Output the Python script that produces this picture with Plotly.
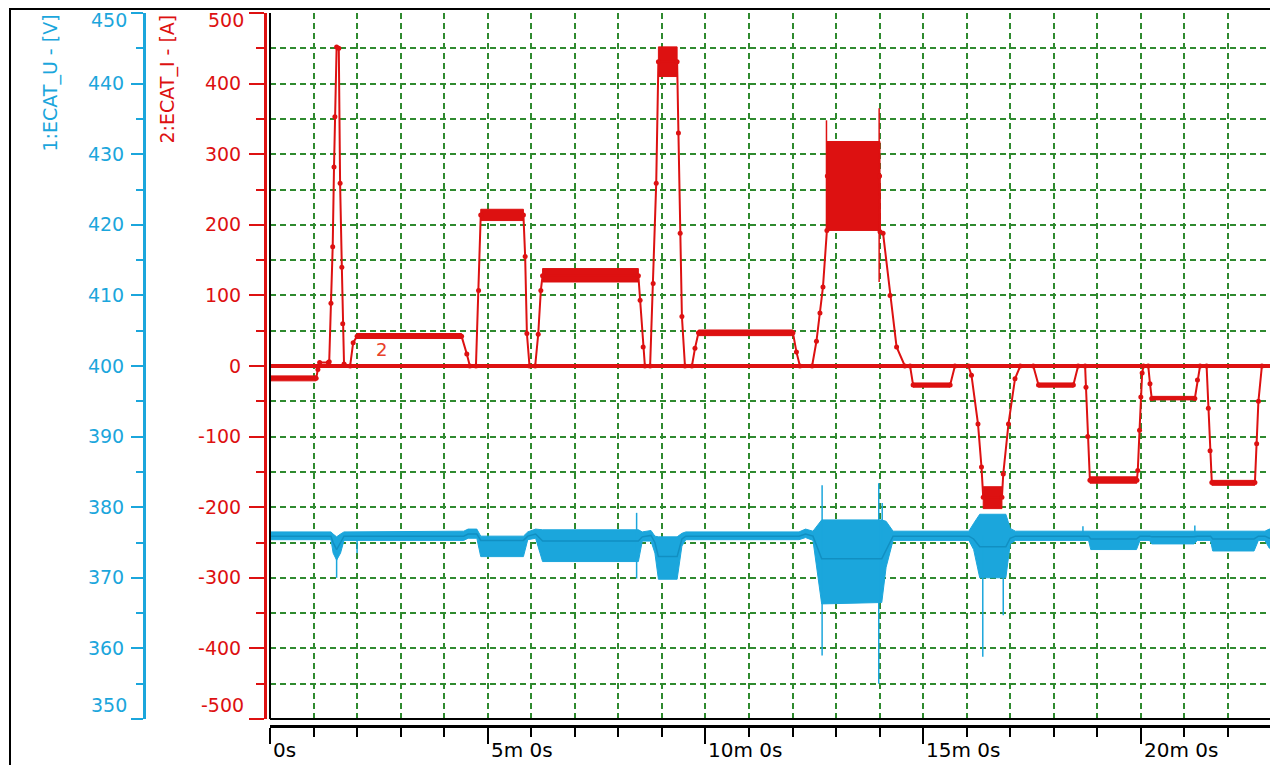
import plotly.graph_objects as go

# ---------------- data (time in minutes) ----------------
# Current ECAT_I [A] – sampled line
I_t = [0.00, 1.06, 1.10, 1.14, 1.34, 1.36, 1.40, 1.44, 1.47, 1.49, 1.53, 1.58, 1.61, 1.65, 1.67, 1.70,
       1.84, 1.91, 2.00, 4.40, 4.52, 4.59, 4.73, 4.79, 4.84, 5.82, 5.86, 5.90, 5.96,
       6.09, 6.16, 6.22, 6.26, 8.46, 8.50, 8.57, 8.61, 8.73, 8.80, 8.87, 8.92, 9.35, 9.38, 9.42, 9.46, 9.53,
       9.69, 9.76, 9.84, 12.01, 12.09, 12.17, 12.45, 12.55, 12.63, 12.70, 12.79, 12.80, 14.00, 14.01,
       14.08, 14.24, 14.39, 14.58, 14.70, 14.77, 15.62, 15.73, 16.04, 16.11, 16.26, 16.34, 16.38, 16.81,
       16.84, 16.96, 17.11, 17.23, 17.53, 17.65, 18.45, 18.56, 18.72, 18.74, 18.78, 18.83, 19.91, 19.93,
       19.97, 20.00, 20.03, 20.06, 20.17, 20.21, 20.25, 21.24, 21.30, 21.36, 21.51, 21.55, 21.59, 21.63,
       22.62, 22.66, 22.70, 22.78, 23.15]
I_val = [-17.5, -17.5, -5, 5, 5, 6, 89, 169, 282, 353, 452, 450, 259, 140, 60, 3,
         0, 33, 42, 42, 17, 0, 0, 107, 214, 214, 155, 46, 0,
         0, 45, 107, 128, 128, 93, 27, 0, 0, 117, 259, 431, 431, 330, 188, 70, 0,
         0, 25, 47, 47, 20, 0, 0, 35, 75, 112, 192, 269, 269, 190,
         188, 100, 27, 0, 0, -27, -27, 0, 0, -13, -82, -143, -186, -186,
         -153, -82, -18, 0, 0, -27, -27, 0, 0, -30, -100, -162, -162, -148,
         -91, -44, -10, 0, 0, -25, -46, -46, -20, 0, 0, -60, -120, -165,
         -165, -110, -50, 0, 0]
# noisy / thick plateaus of the current: start, end, min, max
I_band_t0 = [0.00, 2.00, 4.84, 6.26, 8.92, 9.84, 12.79, 14.77, 16.38, 17.65, 18.83, 20.25, 21.63]
I_band_t1 = [1.06, 4.40, 5.82, 8.46, 9.35, 12.01, 14.01, 15.62, 16.81, 18.45, 19.91, 21.24, 22.62]
I_band_lo = [-21, 39, 206, 119, 410, 43, 192, -30, -202, -30, -166, -48, -169]
I_band_hi = [-14, 46, 222, 138, 452, 51, 318, -24, -171, -24, -157, -43, -162]
# current spikes: time, min, max
I_spike_t = [12.78, 13.99]
I_spike_lo = [192, 119]
I_spike_hi = [348, 365]

# Voltage ECAT_U [V] – mean and min/max envelope
U_t = [0.00, 1.40, 1.45, 1.53, 1.62, 1.70, 4.45, 4.55, 4.75, 4.84, 5.82, 5.92, 6.10, 6.26, 8.46, 8.55,
       8.75, 8.84, 8.92, 9.35, 9.46, 9.55, 12.15, 12.30, 12.47, 12.67, 14.05, 14.15, 14.31, 16.05,
       16.16, 16.30, 16.90, 17.00, 17.12, 18.80, 18.85, 19.90, 19.98, 20.20, 20.25, 21.22, 21.30,
       21.60, 21.65, 22.60, 22.70, 22.85, 22.95, 23.15]
U_mid = [375.9, 375.9, 375.0, 374.0, 375.0, 375.9, 375.9, 376.2, 376.2, 375.3, 375.3, 375.9, 376.2, 375.2,
         375.2, 375.8, 376.0, 375.0, 373.0, 373.0, 375.5, 375.9, 375.9, 376.2, 375.9, 372.7, 372.7, 374.0,
         375.9, 375.9, 375.5, 374.4, 374.4, 375.6, 375.9, 375.9, 375.5, 375.5, 375.9, 375.9, 375.8, 375.8,
         375.9, 375.9, 375.5, 375.5, 375.9, 375.9, 375.6, 375.6]
U_lo = [375.4, 375.4, 373.5, 372.5, 373.5, 375.3, 375.3, 375.6, 375.6, 373.0, 373.0, 375.4, 375.6, 372.3,
        372.3, 375.2, 375.2, 373.5, 369.8, 369.8, 374.5, 375.4, 375.4, 375.7, 375.3, 366.3, 366.5, 371.5,
        375.3, 375.3, 374.0, 370.0, 370.0, 374.8, 375.3, 375.3, 374.0, 374.0, 375.3, 375.3, 374.8, 374.8,
        375.3, 375.3, 373.8, 373.8, 375.3, 375.3, 374.2, 374.2]
U_hi = [376.5, 376.5, 376.2, 375.8, 376.2, 376.5, 376.6, 376.9, 376.9, 375.9, 375.9, 376.5, 376.9, 376.8,
        376.8, 376.5, 376.7, 375.9, 375.8, 375.8, 376.3, 376.5, 376.5, 376.9, 376.6, 378.2, 378.2, 378.0,
        376.6, 376.6, 377.7, 379.0, 379.0, 377.0, 376.6, 376.6, 376.7, 376.7, 376.6, 376.6, 376.7, 376.7,
        376.6, 376.6, 376.7, 376.7, 376.6, 376.6, 376.9, 376.9]
# voltage spikes: time, min, max
U_spike_t = [1.53, 2.00, 8.42, 12.68, 13.98, 14.06, 16.37, 16.84, 18.67, 21.24]
U_spike_lo = [370.0, 373.5, 369.9, 359.0, 355.0, 372.0, 358.8, 364.7, 375.5, 375.5]
U_spike_hi = [375.5, 376.0, 379.2, 383.1, 383.4, 380.6, 376.0, 376.0, 377.3, 377.4]

# axis ticks / labels
I_ticks = [-500, -400, -300, -200, -100, 0, 100, 200, 300, 400, 500]
U_ticks = [350, 360, 370, 380, 390, 400, 410, 420, 430, 440, 450]
x_tick_vals = [0, 5, 10, 15, 20]
x_tick_text = ["0s", "5m 0s", "10m 0s", "15m 0s", "20m 0s"]

# ---------------- styling ----------------
# the page places the figure 8px from the top-left corner (default body margin),
# so the figure is 8px smaller and all reference pixel positions are shifted by 8
OFF = 8
W, H = 1278 - OFF, 765 - OFF
RED = "#dd1111"
BLUE = "#1ba6dc"
BLUE_DARK = "#118fc2"
GRID = "#2f8a2f"
FONT = "DejaVu Sans"
TICK_SIZE = 19


def px(x):
    return (x - OFF) / W


def py(y):
    return 1 - (y - OFF) / H


fig = go.Figure()

# voltage envelope
fig.add_trace(go.Scatter(x=U_t, y=U_hi, mode="lines", line=dict(color=BLUE, width=1),
                         xaxis="x", yaxis="y", showlegend=False, hoverinfo="skip"))
fig.add_trace(go.Scatter(x=U_t, y=U_lo, mode="lines", line=dict(color=BLUE, width=1),
                         fill="tonexty", fillcolor=BLUE, xaxis="x", yaxis="y", showlegend=False,
                         hoverinfo="skip"))
sx, sy = [], []
for t, lo, hi in zip(U_spike_t, U_spike_lo, U_spike_hi):
    sx += [t, t, None]
    sy += [lo, hi, None]
fig.add_trace(go.Scatter(x=sx, y=sy, mode="lines", line=dict(color=BLUE, width=1.5),
                         xaxis="x", yaxis="y", showlegend=False, hoverinfo="skip"))
fig.add_trace(go.Scatter(x=U_t, y=U_mid, mode="lines", line=dict(color=BLUE_DARK, width=1.5),
                         xaxis="x", yaxis="y", showlegend=False, name="1:ECAT_U"))

# current plateaus (bands)
for t0, t1, lo, hi in zip(I_band_t0, I_band_t1, I_band_lo, I_band_hi):
    fig.add_trace(go.Scatter(x=[t0, t1, t1, t0, t0], y=[lo, lo, hi, hi, lo], mode="lines",
                             fill="toself", fillcolor=RED, line=dict(color=RED, width=1),
                             xaxis="x", yaxis="y2", showlegend=False, hoverinfo="skip"))
sx, sy = [], []
for t, lo, hi in zip(I_spike_t, I_spike_lo, I_spike_hi):
    sx += [t, t, None]
    sy += [lo, hi, None]
fig.add_trace(go.Scatter(x=sx, y=sy, mode="lines", line=dict(color=RED, width=1.5),
                         xaxis="x", yaxis="y2", showlegend=False, hoverinfo="skip"))
fig.add_trace(go.Scatter(x=I_t, y=I_val, mode="lines+markers", line=dict(color=RED, width=2),
                         marker=dict(color=RED, size=5), xaxis="x", yaxis="y2", showlegend=False,
                         name="2:ECAT_I"))

grid_common = dict(showgrid=True, gridcolor=GRID, gridwidth=1.5, griddash="6px,4px")

fig.update_layout(
    width=W, height=H,
    margin=dict(l=0, r=0, t=0, b=0),
    paper_bgcolor="white", plot_bgcolor="white",
    font=dict(family=FONT, size=17),
    xaxis=dict(
        domain=[px(270), 1], range=[0, 23.15], anchor="free", position=py(726),
        showline=True, linecolor="black", linewidth=3,
        tickmode="array", tickvals=x_tick_vals, ticks="outside", ticklen=16, tickwidth=1.5,
        tickcolor="black", showticklabels=False, zeroline=False,
        minor=dict(dtick=1, ticks="outside", ticklen=9, tickwidth=1.5, tickcolor="black", **grid_common),
        **grid_common,
    ),
    yaxis=dict(
        domain=[py(719), py(13)], range=[350, 450], anchor="free", position=px(144), side="left",
        showline=True, linecolor=BLUE, linewidth=3,
        tickmode="array", tickvals=U_ticks,
        ticktext=["" if v in (350, 450) else str(v) for v in U_ticks],
        ticks="outside", ticklen=12, tickwidth=1.5, tickcolor=BLUE,
        tickfont=dict(color=BLUE, size=TICK_SIZE, family=FONT), ticklabelstandoff=3,
        minor=dict(dtick=5, ticks="outside", ticklen=7, tickwidth=1.5, tickcolor=BLUE, showgrid=False),
        showgrid=False, zeroline=False,
    ),
    yaxis2=dict(
        domain=[py(719), py(13)], range=[-500, 500], anchor="free", position=px(265), side="left",
        overlaying="y",
        showline=True, linecolor=RED, linewidth=3,
        tickmode="array", tickvals=I_ticks,
        ticktext=["" if v in (-500, 500) else str(v) for v in I_ticks],
        ticks="outside", ticklen=15, tickwidth=1.5, tickcolor=RED,
        tickfont=dict(color=RED, size=TICK_SIZE, family=FONT), ticklabelstandoff=4,
        minor=dict(dtick=50, ticks="outside", ticklen=8, tickwidth=1.5, tickcolor=RED, **grid_common),
        zeroline=True, zerolinecolor=RED, zerolinewidth=4,
        **grid_common,
    ),
)

# frame / borders
shapes = [
    dict(type="line", xref="paper", yref="paper", x0=px(270), x1=px(270), y0=py(13), y1=py(719),
         line=dict(color="black", width=2)),
    dict(type="line", xref="paper", yref="paper", x0=px(270), x1=1, y0=py(719), y1=py(719),
         line=dict(color="black", width=2)),
    dict(type="line", xref="paper", yref="paper", x0=px(10), x1=px(10), y0=1, y1=0,
         line=dict(color="black", width=2)),
    dict(type="line", xref="paper", yref="paper", x0=px(10), x1=1, y0=py(9), y1=py(9),
         line=dict(color="black", width=2)),
]
fig.update_layout(shapes=shapes)

ann = []
# axis titles
ann.append(dict(text="1:ECAT_U - [V]", xref="paper", yref="paper", x=px(50), y=py(13),
                xanchor="center", yanchor="top", textangle=-90, showarrow=False,
                font=dict(color=BLUE, size=TICK_SIZE, family=FONT)))
ann.append(dict(text="2:ECAT_I - [A]", xref="paper", yref="paper", x=px(167), y=py(13),
                xanchor="center", yanchor="top", textangle=-90, showarrow=False,
                font=dict(color=RED, size=TICK_SIZE, family=FONT)))
# end tick labels (drawn inside the axis range)
for txt, xx, yy, col in [("500", 246, 20, RED), ("-500", 246, 705, RED),
                         ("450", 129, 20, BLUE), ("350", 129, 705, BLUE)]:
    ann.append(dict(text=txt, xref="paper", yref="paper", x=px(xx), y=py(yy), xanchor="right",
                    yanchor="middle", showarrow=False,
                    font=dict(color=col, size=TICK_SIZE, family=FONT)))
# x tick labels, left aligned at the tick
for v, t in zip(x_tick_vals, x_tick_text):
    ann.append(dict(text=t, xref="x", yref="paper", x=v, y=py(750), xanchor="left", yanchor="middle",
                    xshift=1, showarrow=False, font=dict(color="black", size=20, family=FONT)))
# channel label
ann.append(dict(text="2", xref="x", yref="y2", x=2.55, y=24, showarrow=False,
                font=dict(color="#e8402a", size=18, family=FONT)))
fig.update_layout(annotations=ann)

fig.write_html("out.html")
